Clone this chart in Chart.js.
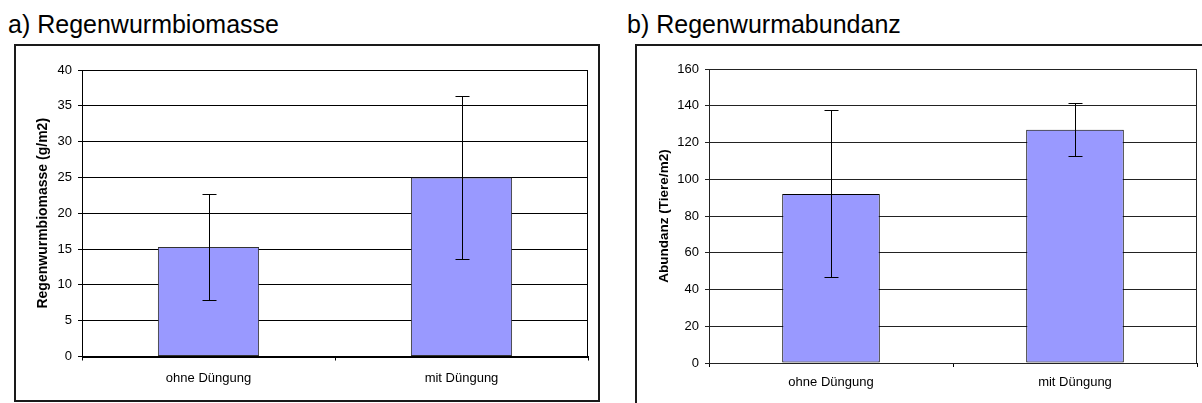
<!DOCTYPE html>
<html>
<head>
<meta charset="utf-8">
<script src="https://cdn.jsdelivr.net/npm/chart.js@4.4.1/dist/chart.umd.min.js"></script>
<style>
  html, body { margin: 0; padding: 0; background: #fff; overflow: hidden; }
  body { width: 1202px; height: 403px; position: relative; font-family: Arial, "Liberation Sans", sans-serif; }
  .title { position: absolute; font-size: 25px; color: #000; white-space: nowrap; line-height: 1; }
  .frame { position: absolute; border: 2px solid #1a1a1a; box-sizing: border-box; }
  canvas { position: absolute; }
</style>
</head>
<body>
<div class="title" id="titleA" style="left:8px; top:12px;"></div>
<div class="title" id="titleB" style="left:627px; top:12px;"></div>
<div class="frame" style="left:14px; top:44px; width:586px; height:358px;"></div>
<div class="frame" style="left:635px; top:44px; width:600px; height:400px;"></div>
<canvas id="chartA" width="583" height="355" style="left:15px; top:45px; width:583px; height:355px;"></canvas>
<canvas id="chartB" width="565" height="357" style="left:637px; top:46px; width:565px; height:357px;"></canvas>
<script>
// ---- data ----
const categories = ["ohne Düngung", "mit Düngung"];

const titleA = "a) Regenwurmbiomasse";
const yTitleA = "Regenwurmbiomasse (g/m2)";
const biomass = [15.3, 25.0];
const biomassLow = [7.9, 13.6];
const biomassHigh = [22.7, 36.4];
const yMaxA = 40, yStepA = 5;

const titleB = "b) Regenwurmabundanz";
const yTitleB = "Abundanz (Tiere/m2)";
const abundance = [92.0, 127.0];
const abundanceLow = [46.6, 112.7];
const abundanceHigh = [137.7, 141.5];
const yMaxB = 160, yStepB = 20;

document.getElementById('titleA').textContent = titleA;
document.getElementById('titleB').textContent = titleB;

const FONT = 'Arial, "Liberation Sans", sans-serif';

const errorBarPlugin = {
  id: 'errorBars',
  afterDatasetsDraw(chart, args, opts) {
    const ctx = chart.ctx;
    const x = chart.scales.x, y = chart.scales.y;
    ctx.save();
    ctx.strokeStyle = opts.color || '#000';
    ctx.lineWidth = 1;
    const cap = opts.cap || 7;
    opts.low.forEach((lo, i) => {
      const hi = opts.high[i];
      const px = Math.round(x.getPixelForValue(i)) + 0.5;
      const pLo = Math.round(y.getPixelForValue(lo)) + 0.5;
      const pHi = Math.round(y.getPixelForValue(hi)) + 0.5;
      ctx.beginPath();
      ctx.moveTo(px, pLo); ctx.lineTo(px, pHi);
      ctx.moveTo(px - cap, pLo); ctx.lineTo(px + cap, pLo);
      ctx.moveTo(px - cap, pHi); ctx.lineTo(px + cap, pHi);
      ctx.stroke();
    });
    ctx.restore();
  }
};

const plotBorderPlugin = {
  id: 'plotBorder',
  afterDraw(chart, args, opts) {
    const a = chart.chartArea;
    const ctx = chart.ctx;
    ctx.save();
    ctx.strokeStyle = opts.color || '#000';
    ctx.lineWidth = 1;
    ctx.strokeRect(Math.round(a.left) + 0.5, Math.round(a.top) + 0.5,
                   Math.round(a.right - a.left) - 1, Math.round(a.bottom - a.top));
    ctx.restore();
  }
};

function makeChart(id, values, low, high, yMax, yStep, yTitle, cfg) {
  return new Chart(document.getElementById(id), {
    type: 'bar',
    data: {
      labels: categories,
      datasets: [{
        data: values,
        backgroundColor: '#9999FF',
        borderColor: cfg.barBorder,
        borderWidth: 1,
        borderSkipped: false,
        barPercentage: 0.4,
        categoryPercentage: 1.0
      }]
    },
    options: {
      responsive: false,
      animation: false,
      devicePixelRatio: 1,
      layout: { padding: { left: 0, top: cfg.top, right: cfg.right, bottom: 0 } },
      plugins: {
        legend: { display: false },
        tooltip: { enabled: false },
        errorBars: { low: low, high: high, cap: 7, color: '#000' },
        plotBorder: { color: cfg.gridColor }
      },
      scales: {
        x: {
          grid: { display: true, drawOnChartArea: false, drawTicks: true, tickLength: 4, color: '#000', offset: true },
          border: { display: true, color: '#000', width: 1 },
          ticks: { font: { family: FONT, size: 13 }, color: '#000', padding: cfg.xPad, maxRotation: 0 },
          afterFit(scale) { scale.height = cfg.xHeight; }
        },
        y: {
          min: 0, max: yMax,
          grid: { color: cfg.gridColor, lineWidth: 1, tickLength: 4, drawTicks: true },
          border: { display: true, color: '#000', width: 1 },
          ticks: { stepSize: yStep, font: { family: FONT, size: 13 }, color: '#000', padding: 6 },
          title: { display: true, text: yTitle, font: { family: FONT, size: cfg.yTitleSize, weight: 'bold' }, color: '#000', padding: { top: cfg.yTitlePad, bottom: 0 } },
          afterFit(scale) { scale.width = cfg.yWidth; }
        }
      }
    },
    plugins: [errorBarPlugin, plotBorderPlugin]
  });
}

makeChart('chartA', biomass, biomassLow, biomassHigh, yMaxA, yStepA, yTitleA,
  { top: 25, right: 10, xHeight: 43.5, yWidth: 67, xPad: 10, yTitlePad: 19.6, yTitleSize: 14, gridColor: '#000', barBorder: '#333' });
makeChart('chartB', abundance, abundanceLow, abundanceHigh, yMaxB, yStepB, yTitleB,
  { top: 23, right: 5, xHeight: 40, yWidth: 72, xPad: 8, yTitlePad: 19, yTitleSize: 13.5, gridColor: '#222', barBorder: '#000' });
</script>
</body>
</html>
